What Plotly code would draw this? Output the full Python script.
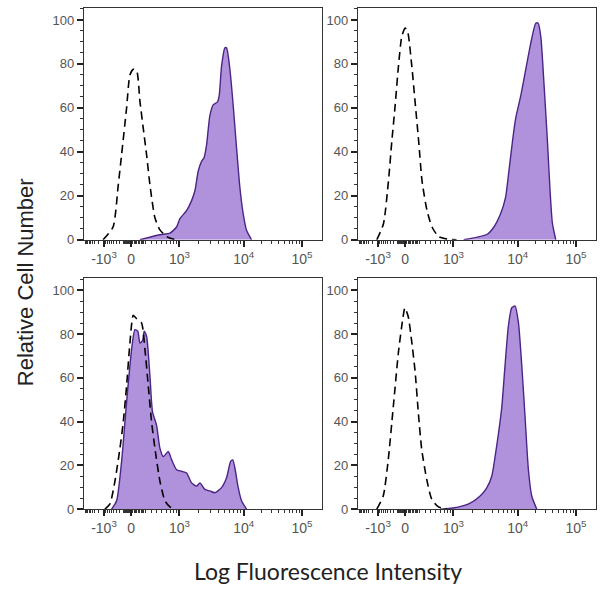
import numpy as np
import plotly.graph_objects as go

# ---- x axis: biexponential display channel (0-1000) ----
decade_vals = [-1e3, 0, 1e3, 1e4, 1e5]
decade_pos = [84, 198, 401, 671, 916]
tick_text = ["-10<sup>3</sup>", "0", "10<sup>3</sup>", "10<sup>4</sup>", "10<sup>5</sup>"]

y_ticks = [0, 20, 40, 60, 80, 100]

# ---- panel data (display channel, relative count) ----
# top-left
tl_iso_x = [80, 122, 144, 158, 179, 193, 207, 221, 235, 249, 263, 277, 298, 319, 347, 374, 392]
tl_iso_y = [0, 5.8, 25, 38.7, 60, 75, 77.6, 77, 63, 50.7, 38.7, 25, 10, 4.5, 1.5, 0.3, 0]
tl_st_x = [235, 291, 333, 361, 389, 403, 431, 452, 466, 480, 494, 504, 515, 529, 543, 560, 568,
           578, 592, 599, 613, 627, 641, 655, 669, 683, 704]
tl_st_y = [0, 1.6, 2.5, 3, 5.8, 9.6, 13.3, 17.8, 22.3, 31.3, 35.7, 37.2, 43.2, 56.6, 61.4, 62.6,
           65.6, 79, 87.3, 87.3, 77.6, 61, 41.7, 23.8, 11.8, 4.3, 0]
# top-right
tr_iso_x = [79, 107, 128, 142, 156, 170, 184, 198, 208, 226, 240, 255, 269, 290, 311, 339, 374, 414]
tr_iso_y = [0, 7.3, 26.8, 44.7, 61, 79, 92.5, 96.3, 95, 79, 62.6, 44.7, 26.8, 13.3, 5.8, 1.4, 0.3, 0]
tr_st_x = [444, 501, 543, 571, 599, 620, 634, 649, 662, 684, 705, 726, 747, 757, 768, 782, 796,
           807, 817, 831]
tr_st_y = [0, 1.2, 2.5, 5.8, 11.8, 19.3, 31.2, 44.7, 55, 65.6, 77.6, 89.5, 98.5, 98.5, 92.5, 70,
           44.7, 22.3, 7.3, 0]
# bottom-left
bl_iso_x = [88, 109, 130, 151, 165, 179, 193, 207, 221, 242, 256, 270, 284, 298, 319, 340, 361, 380]
bl_iso_y = [0, 2.4, 12.8, 27.8, 39.8, 56.4, 75.9, 88.6, 87, 85, 73, 56.4, 39.8, 27.8, 12.8, 3.8, 1, 0]
bl_st_x = [116, 137, 158, 179, 200, 214, 226, 235, 246, 253, 263, 277, 288, 305, 319, 333, 354,
           368, 389, 410, 431, 452, 473, 487, 508, 529, 550, 578, 599, 616, 625, 634, 648, 662, 683]
bl_st_y = [0, 3.8, 21.8, 48.9, 73, 82, 81.3, 75.9, 77, 81.3, 79, 60.9, 44.4, 38.3, 27.8, 24, 26.3,
           22.6, 18, 17.3, 16.5, 12, 10.5, 12, 9, 8.3, 7.5, 9.8, 14.3, 21.8, 22.5, 18.8, 9.8, 3.8, 0]
# bottom-right
br_iso_x = [79, 106, 127, 148, 170, 188, 197, 211, 226, 240, 254, 268, 289, 310, 338, 373]
br_iso_y = [0, 6, 22.5, 46.4, 71.8, 86.8, 92, 88, 76.3, 62.8, 43.4, 27, 13.5, 4.5, 1, 0]
br_st_x = [345, 415, 471, 513, 541, 562, 576, 590, 604, 618, 632, 646, 660, 674, 688, 702, 716, 730, 751]
br_st_y = [0, 0.8, 2.7, 6, 9.7, 15, 24, 34.4, 46.4, 65.9, 83.8, 92, 92.8, 85.3, 65.9, 42, 18, 6, 0]

panels = [
    (tl_iso_x, tl_iso_y, tl_st_x, tl_st_y),
    (tr_iso_x, tr_iso_y, tr_st_x, tr_st_y),
    (bl_iso_x, bl_iso_y, bl_st_x, bl_st_y),
    (br_iso_x, br_iso_y, br_st_x, br_st_y),
]


def to_channel(v):
    w = 400.0
    if v >= 1e3:
        return float(np.interp(np.log10(v), [3, 4, 5], decade_pos[2:]))
    if v >= 0:
        return decade_pos[1] + (decade_pos[2] - decade_pos[1]) * np.arcsinh(v / w) / np.arcsinh(1000 / w)
    if v > -1e3:
        return decade_pos[1] - (decade_pos[1] - decade_pos[0]) * np.arcsinh(-v / w) / np.arcsinh(1000 / w)
    return decade_pos[0] - 80 * np.log10(-v / 1000)


minor_vals = []
for d in [3, 4]:
    for k in range(2, 10):
        minor_vals.append(k * 10 ** d)
for k in range(1, 10):
    minor_vals += [k * 100, -k * 100, k * 20, -k * 20]
for k in range(2, 10):
    minor_vals.append(-k * 1000)
minor_vals.append(2e5)
minor_pos = sorted(p for p in (to_channel(v) for v in minor_vals) if 0 < p < 1000)

FILL = "#b091dc"
EDGE = "#4b2585"

xdoms = [[84 / 600, 322 / 600], [358 / 600, 596 / 600]]
ydoms = [[1 - 243 / 600, 1 - 8 / 600], [1 - 516 / 600, 1 - 282 / 600]]

fig = go.Figure()
layout = dict(
    width=600, height=600, margin=dict(l=0, r=0, t=0, b=0),
    paper_bgcolor="white", plot_bgcolor="white", showlegend=False,
)
for i, (ix, iy, sx, sy) in enumerate(panels):
    r, c = divmod(i, 2)
    n = "" if i == 0 else str(i + 1)
    xa, ya = "x" + n, "y" + n
    fig.add_trace(go.Scatter(x=sx, y=sy, xaxis=xa, yaxis=ya, mode="lines",
                             line=dict(color=EDGE, width=1.4, shape="spline", smoothing=0.6),
                             fill="tozeroy", fillcolor=FILL))
    fig.add_trace(go.Scatter(x=ix, y=iy, xaxis=xa, yaxis=ya, mode="lines",
                             line=dict(color="black", width=1.6, dash="8px,5px",
                                       shape="spline", smoothing=0.6)))
    layout["xaxis" + n] = dict(
        domain=xdoms[c], range=[0, 1000], anchor=ya,
        tickmode="array", tickvals=decade_pos, ticktext=tick_text,
        ticks="outside", ticklen=6, tickwidth=1.5, tickcolor="#222",
        showline=True, linecolor="#333", linewidth=1.3, mirror=True,
        showgrid=False, zeroline=False,
        tickfont=dict(family="Liberation Sans, Arial", size=14, color="#555"),
        minor=dict(tickmode="array", tickvals=minor_pos, ticks="outside",
                   ticklen=3, tickwidth=1, tickcolor="#333", showgrid=False),
    )
    layout["yaxis" + n] = dict(
        domain=ydoms[r], range=[0, 105.5], anchor=xa,
        tickmode="array", tickvals=y_ticks,
        ticks="outside", ticklen=6, tickwidth=1.5, tickcolor="#222",
        showline=True, linecolor="#333", linewidth=1.3, mirror=True,
        showgrid=False, zeroline=False,
        tickfont=dict(family="Liberation Sans, Arial", size=13, color="#555"),
        minor=dict(dtick=5, ticks="outside", ticklen=3, tickwidth=1,
                   tickcolor="#333", showgrid=False),
    )

layout["annotations"] = [
    dict(text="Relative Cell Number", x=25 / 600, y=1 - 286 / 600, xref="paper", yref="paper",
         textangle=-90, showarrow=False, xanchor="center", yanchor="middle",
         font=dict(family="Liberation Sans, Arial", size=22, color="#222")),
    dict(text="Log Fluorescence Intensity", x=328 / 600, y=1 - 579 / 600, xref="paper", yref="paper",
         showarrow=False, xanchor="center", yanchor="middle",
         font=dict(family="Lato, Open Sans", size=23, color="#222")),
]
fig.update_layout(**layout)
fig.write_html("out.html")
